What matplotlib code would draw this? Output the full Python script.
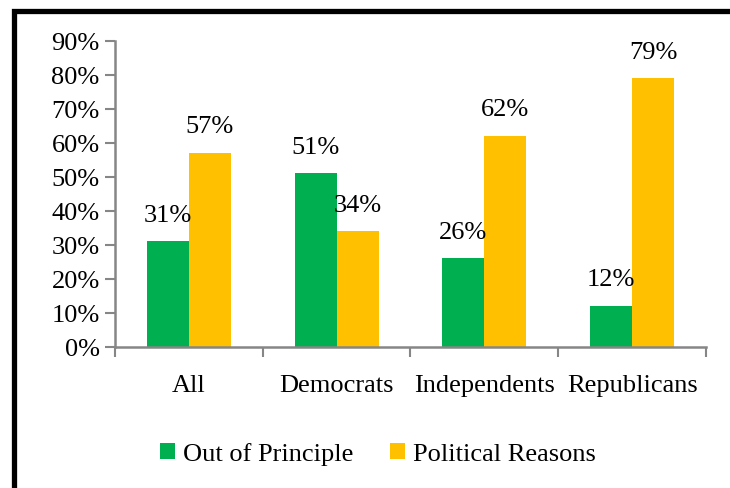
import matplotlib
matplotlib.use("Agg")
import matplotlib.pyplot as plt
import numpy as np
from matplotlib.patches import Rectangle

categories = ["All", "Democrats", "Independents", "Republicans"]
principle = [31, 51, 26, 12]
political = [57, 34, 62, 79]
series_names = ["Out of Principle", "Political Reasons"]
yticks = [0, 10, 20, 30, 40, 50, 60, 70, 80, 90]

GREEN = "#00B050"
YELLOW = "#FFC000"
GRAY = "#868686"
FS = 19

plt.rcParams["font.family"] = ["Liberation Serif", "DejaVu Serif"]

fig = plt.figure(figsize=(7.3, 4.89), dpi=100)
ax = fig.add_axes([115 / 730, 1 - 347.5 / 489, 591 / 730, 306 / 489])

x = np.arange(len(categories))
w = 42 / 147.75
b1 = ax.bar(x - w / 2, principle, w, color=GREEN, label=series_names[0])
b2 = ax.bar(x + w / 2, political, w, color=YELLOW, label=series_names[1])

for bars, vals in [(b1, principle), (b2, political)]:
    for rect, v in zip(bars, vals):
        ax.annotate(f"{v}%", (rect.get_x() + rect.get_width() / 2, v),
                    xytext=(0, 19), textcoords="offset points",
                    ha="center", va="center", fontsize=FS)

ax.set_xlim(-0.5, len(categories) - 0.5)
ax.set_ylim(0, 90)
ax.set_yticks(yticks)
ax.set_yticklabels([f"{t}%" for t in yticks], fontsize=FS)
ax.set_xticks(np.arange(len(categories) + 1) - 0.5)
ax.set_xticklabels([])
ax.set_xticks(x, minor=True)
ax.set_xticklabels(categories, minor=True, fontsize=FS)
ax.tick_params(axis="x", which="minor", length=0, pad=20)
ax.tick_params(axis="x", which="major", length=7, width=1.5, color=GRAY, direction="out")
ax.tick_params(axis="y", length=7, width=1.5, color=GRAY, direction="out", pad=4)
for side in ["top", "right"]:
    ax.spines[side].set_visible(False)
for side in ["left", "bottom"]:
    ax.spines[side].set_color(GRAY)
    ax.spines[side].set_linewidth(1.8)

ax.legend(loc="center", bbox_to_anchor=(378 / 730, 1 - 455 / 489),
          bbox_transform=fig.transFigure, ncol=2, frameon=False, fontsize=FS,
          handlelength=0.55, handleheight=0.55, handletextpad=0.3, columnspacing=1.4)

fig.patches.append(Rectangle((13.5 / 730, -0.1), 1.2, 0.1 + 1 - 11.5 / 489,
                             transform=fig.transFigure, fill=False,
                             edgecolor="black", linewidth=3.8))

fig.savefig("out.png", dpi=100)
